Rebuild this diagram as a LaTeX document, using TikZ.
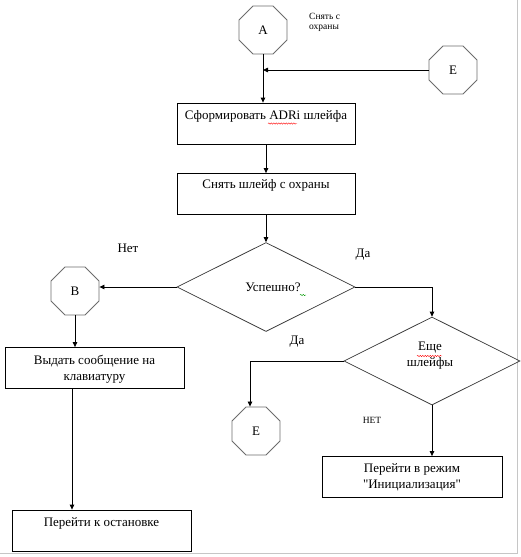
\documentclass[tikz,border=0pt]{standalone}
\usepackage{fontspec}
\setmainfont{Liberation Serif}
\newfontfamily\serif{Liberation Serif}
\usetikzlibrary{shapes.geometric,arrows.meta,decorations.pathmorphing}
\begin{document}
\begin{tikzpicture}[x=1pt,y=-1pt,
  oct/.style={regular polygon,regular polygon sides=8,minimum size=52pt,draw=gray!85!black,line width=0.8pt,inner sep=0pt,font=\serif\fontsize{13}{15}\selectfont},
  box/.style={draw,line width=0.8pt,minimum width=178pt,minimum height=41pt,inner sep=0pt},
  dia/.style={diamond,draw=black!80,line width=0.7pt,inner sep=0pt},
  txt/.style={font=\serif\fontsize{13}{16}\selectfont,align=center,inner sep=0pt},
  small/.style={font=\serif\fontsize{9.5}{10.5}\selectfont,inner sep=0pt},
  arr/.style={-{Triangle[length=5pt,width=4.5pt]},line width=0.8pt},
  spell/.style={decorate,decoration={snake,segment length=2.5pt,amplitude=0.7pt},line width=0.4pt}]
\useasboundingbox (0,0) rectangle (520,557);
\draw[gray!45,line width=0.8pt] (517,0) -- (517,553) -- (0,553);
% shapes
\node[oct] (A) at (263,30) {A};
\node[oct] (E1) at (453,70) {E};
\node[box] (b1) at (266,123.5) {};
\node[txt] (t1) at (266,116) {Сформировать ADRi шлейфа};
\node[box] (b2) at (266,194) {};
\node[txt] (t2) at (266,185) {Снять шлейф с охраны};
\node[dia,minimum width=178pt,minimum height=89pt] (d1) at (266,287) {};
\node[txt] (t3) at (273,287) {Успешно?};
\node[oct] (B) at (75,291) {B};
\node[box,minimum width=179pt] (b3) at (94.5,368) {};
\node[txt] (t4) at (94.5,369) {Выдать сообщение на\\клавиатуру};
\node[dia,minimum width=176pt,minimum height=88pt] (d2) at (432,361) {};
\node[txt] (t5) at (430,356) {Еще\\шлейфы};
\node[oct] (E2) at (256,431) {E};
\node[box,minimum width=180pt] (b5) at (412,477) {};
\node[txt] (t6) at (412,477.5) {Перейти в режим\\"Инициализация"};
\node[box,minimum width=179pt] (b4) at (101.5,530.5) {};
\node[txt] (t7) at (101.5,523) {Перейти к остановке};
% labels
\node[small,align=left,anchor=north west] (s1) at (309,13) {Снять с\\охраны};
\node[txt] (l1) at (128,248) {Нет};
\node[txt] (l2) at (363,255) {Да};
\node[txt] (l3) at (297,342) {Да};
\node[small] (l4) at (372,420) {НЕТ};
% connectors
\draw[arr] (A.south) -- (A.south |- b1.north);
\draw[arr] (E1.west) -- (A.south |- E1.west);
\draw[arr] (b1.south) -- (b2.north);
\draw[arr] (b2.south) -- (d1.north);
\draw[arr] (d1.west) -- (d1.west -| B.east);
\draw[arr] (d1.east) -- (d2.north |- d1.east) -- (d2.north);
\draw[arr] (B.south) -- (B.south |- b3.north);
\coordinate (c1) at (250,361);
\draw[arr] (d2.west) -- (c1) -- (c1 |- E2.north);
\draw[arr] (d2.south) -- (d2.south |- b5.north);
\coordinate (c2) at (72,388);
\draw[arr] (c2) -- (c2 |- b4.north);
% spelling marks
\draw[spell,red] (268,123.5) -- (297,123.5);
\draw[spell,red] (417,356) -- (442,356);
\draw[spell,green!60!black] (300,295) -- (306,295);
\end{tikzpicture}
\end{document}
